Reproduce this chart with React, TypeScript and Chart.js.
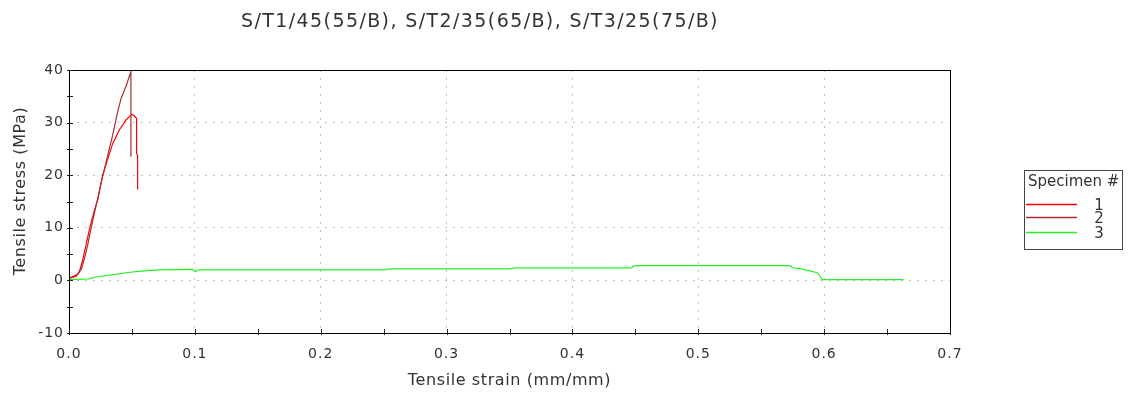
import React, { useEffect, useRef } from "react";
import { Chart, registerables } from "chart.js";

Chart.register(...registerables);

const TITLE = "S/T1/45(55/B), S/T2/35(65/B), S/T3/25(75/B)";
const X_TITLE = "Tensile strain (mm/mm)";
const Y_TITLE = "Tensile stress (MPa)";
const LEGEND_TITLE = "Specimen #";
const SERIES_NAMES = ["1", "2", "3"];
const SERIES_COLORS = ["rgb(255,0,0)", "rgb(170,45,50)", "rgb(40,240,40)"];

const strain1 = [0, 0.0006, 0.0058, 0.0084, 0.011, 0.0137, 0.0163, 0.019, 0.0229, 0.0268, 0.0308, 0.0347, 0.04, 0.0453, 0.05, 0.0519, 0.0537, 0.0537, 0.0545, 0.0545];
const stress1 = [0.3, 0.4, 0.8, 1.8, 4.0, 6.9, 9.8, 12.3, 15.5, 20.0, 23.1, 26.0, 28.6, 30.5, 31.6, 31.3, 30.8, 24.1, 23.8, 17.3];

const strain2 = [0, 0.0006, 0.0071, 0.0098, 0.0124, 0.015, 0.0177, 0.0203, 0.0229, 0.0256, 0.0282, 0.0321, 0.0347, 0.0387, 0.0414, 0.0453, 0.0492, 0.0492];
const stress2 = [0.3, 0.5, 1.2, 2.1, 4.3, 6.9, 10.1, 13.0, 15.5, 18.7, 21.2, 25.1, 27.6, 32.1, 34.6, 36.9, 39.7, 23.5];

const strain3 = [0, 0.005, 0.016, 0.022, 0.035, 0.05, 0.06, 0.072, 0.098, 0.1005, 0.103, 0.15, 0.2, 0.25, 0.255, 0.3, 0.35, 0.355, 0.4, 0.447, 0.449, 0.5, 0.55, 0.573, 0.575, 0.582, 0.585, 0.589, 0.592, 0.594, 0.596, 0.597, 0.598, 0.6, 0.63, 0.663];
const stress3 = [0.2, 0.2, 0.3, 0.7, 1.1, 1.6, 1.8, 2.0, 2.1, 1.7, 2.0, 2.0, 2.0, 2.0, 2.2, 2.2, 2.2, 2.4, 2.4, 2.4, 2.8, 2.8, 2.8, 2.8, 2.4, 2.2, 2.0, 1.8, 1.6, 1.5, 1.1, 0.8, 0.2, 0.15, 0.15, 0.13];

const X_MIN = 0, X_MAX = 0.7, X_STEP = 0.1, X_MINOR = 0.05;
const Y_MIN = -10, Y_MAX = 40, Y_STEP = 10, Y_MINOR = 5;

const FONT = '"DejaVu Sans", Verdana, sans-serif';
const TEXT = "#333333";

function toPoints(xs: number[], ys: number[]) {
  return xs.map((x, i) => ({ x, y: ys[i] }));
}

function spaced(ctx: any, s: string) {
  ctx.letterSpacing = s;
}

const decorPlugin = {
  id: "decor",
  afterDraw(chart: any) {
    const ctx = chart.ctx as CanvasRenderingContext2D;
    const { left, right, top, bottom } = chart.chartArea;
    const xs = chart.scales.x;
    const ys = chart.scales.y;
    ctx.save();
    // frame
    ctx.strokeStyle = "#000";
    ctx.lineWidth = 1;
    ctx.strokeRect(Math.round(left) + 0.5, Math.round(top) + 0.5, Math.round(right - left), Math.round(bottom - top));
    // minor/major tick marks
    ctx.strokeStyle = "#222";
    ctx.beginPath();
    for (let v = Y_MIN; v <= Y_MAX + 1e-9; v += Y_MINOR) {
      const py = Math.round(ys.getPixelForValue(v)) + 0.5;
      ctx.moveTo(left - 2, py);
      ctx.lineTo(left + 4, py);
    }
    for (let i = 0; X_MIN + i * X_MINOR <= X_MAX + 1e-9; i++) {
      const px = Math.round(xs.getPixelForValue(X_MIN + i * X_MINOR)) + 0.5;
      ctx.moveTo(px, bottom + 2);
      ctx.lineTo(px, bottom - 4);
    }
    ctx.stroke();
    // titles
    ctx.fillStyle = TEXT;
    ctx.textAlign = "center";
    ctx.textBaseline = "middle";
    ctx.font = `19px ${FONT}`;
    spaced(ctx, "1.4px");
    ctx.fillText(TITLE, 480, 22);
    ctx.font = `16px ${FONT}`;
    spaced(ctx, "0.6px");
    ctx.fillText(X_TITLE, (left + right) / 2, 381);
    ctx.save();
    ctx.translate(21, 191);
    ctx.rotate(-Math.PI / 2);
    ctx.fillText(Y_TITLE, 0, 0);
    ctx.restore();
    // legend
    spaced(ctx, "0px");
    ctx.strokeStyle = "#444";
    ctx.strokeRect(1024.5, 170.5, 98, 79);
    ctx.textAlign = "left";
    ctx.font = `15px ${FONT}`;
    ctx.fillStyle = TEXT;
    ctx.fillText(LEGEND_TITLE, 1028, 182);
    const rows = [204.5, 217.5, 232.5];
    SERIES_NAMES.forEach((n, i) => {
      ctx.strokeStyle = SERIES_COLORS[i];
      ctx.lineWidth = 1.5;
      ctx.beginPath();
      ctx.moveTo(1026, rows[i]);
      ctx.lineTo(1077, rows[i]);
      ctx.stroke();
      ctx.textAlign = "center";
      ctx.fillStyle = TEXT;
      ctx.fillText(n, 1099, rows[i] + 2);
    });
    ctx.restore();
  },
};

const tickSpacing = {
  id: "tickSpacing",
  beforeDraw(chart: any) { (chart.ctx as any).letterSpacing = "1px"; },
  afterDatasetsDraw(chart: any) { (chart.ctx as any).letterSpacing = "0px"; },
};

export default function App() {
  const ref = useRef<HTMLCanvasElement | null>(null);
  useEffect(() => {
    document.body.style.margin = "0";
    const canvas = ref.current!;
    const gridColor = (ctx: any, min: number, max: number) => {
      const v = ctx.tick ? ctx.tick.value : null;
      if (v === null || Math.abs(v - min) < 1e-9 || Math.abs(v - max) < 1e-9) return "rgba(0,0,0,0)";
      return "rgba(150,150,125,0.6)";
    };
    const chart = new Chart(canvas, {
      type: "line",
      data: {
        datasets: [
          { label: SERIES_NAMES[2], data: toPoints(strain3, stress3), borderColor: SERIES_COLORS[2] },
          { label: SERIES_NAMES[1], data: toPoints(strain2, stress2), borderColor: SERIES_COLORS[1] },
          { label: SERIES_NAMES[0], data: toPoints(strain1, stress1), borderColor: SERIES_COLORS[0] },
        ].map((d) => ({ ...d, borderWidth: 1.2, pointRadius: 0, tension: 0, fill: false })),
      },
      options: {
        animation: false,
        responsive: false,
        events: [],
        layout: { padding: { left: 0, top: 70, right: 187, bottom: 0 } },
        plugins: { legend: { display: false }, title: { display: false }, tooltip: { enabled: false } },
        scales: {
          x: {
            type: "linear",
            min: X_MIN,
            max: X_MAX,
            afterFit: (s: any) => { s.height = 61; },
            ticks: {
              stepSize: X_STEP,
              padding: 13,
              color: TEXT,
              font: { family: FONT, size: 14 },
              callback: (v: any) => Number(v).toFixed(1),
            },
            grid: { color: (c: any) => gridColor(c, X_MIN, X_MAX), drawTicks: false, lineWidth: 1 },
            border: { display: false, dash: [2, 6] },
          },
          y: {
            type: "linear",
            min: Y_MIN,
            max: Y_MAX,
            afterFit: (s: any) => { s.width = 69; },
            ticks: {
              stepSize: Y_STEP,
              padding: 5,
              color: TEXT,
              font: { family: FONT, size: 14 },
              callback: (v: any) => String(Math.round(Number(v))),
            },
            grid: { color: (c: any) => gridColor(c, Y_MIN, Y_MAX), drawTicks: false, lineWidth: 1 },
            border: { display: false, dash: [2, 6] },
          },
        },
      },
      plugins: [tickSpacing, decorPlugin],
    });
    return () => chart.destroy();
  }, []);
  return (
    <div style={{ width: 1137, height: 394, background: "#fff" }}>
      <canvas ref={ref} width={1137} height={394} style={{ display: "block" }} />
    </div>
  );
}
